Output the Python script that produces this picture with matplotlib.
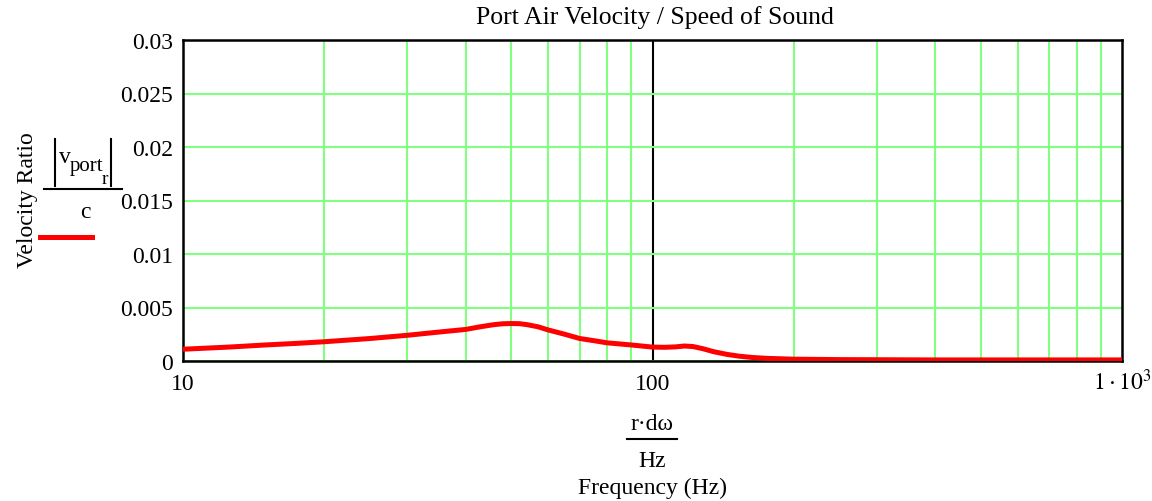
import matplotlib
matplotlib.use("Agg")
import matplotlib.pyplot as plt
from matplotlib.lines import Line2D

plt.rcParams['font.family'] = ['Liberation Serif', 'DejaVu Serif']
plt.rcParams['mathtext.fontset'] = 'stix'

# frequency (Hz) and |v_port| / c
freq = [10, 12.5, 15, 17.5, 20, 25, 30, 35, 40, 43, 46, 48, 50, 52, 54, 57,
        60, 65, 70, 75, 80, 90, 100, 106, 112, 117, 122, 128, 135, 144, 153,
        163, 175, 200, 250, 300, 400, 500, 700, 1000]
ratio = [0.0011, 0.0013, 0.0015, 0.00165, 0.0018, 0.0021, 0.0024, 0.0027,
         0.00295, 0.0032, 0.0034, 0.00348, 0.0035, 0.00349, 0.0034, 0.0032,
         0.0029, 0.0025, 0.0021, 0.0019, 0.0017, 0.0015, 0.0013, 0.00128,
         0.00132, 0.0014, 0.00135, 0.00115, 0.00087, 0.00062, 0.00045,
         0.00033, 0.00025, 0.00017, 0.00013, 0.00012, 0.0001, 0.0001, 0.0001,
         0.0001]

yticks = [0, 0.005, 0.01, 0.015, 0.02, 0.025, 0.03]
ytick_labels = ['0', '0.005', '0.01', '0.015', '0.02', '0.025', '0.03']
xticks = [10, 100, 1000]
xtick_labels = ['10', '100', r'$1\cdot10^{3}$']

W, H = 1152, 502
fig = plt.figure(figsize=(W / 100, H / 100), dpi=100)
ax = fig.add_axes([183 / W, 1 - 362 / H, 939 / W, 321 / H])

green = '#80ff80'
ax.set_xscale('log')
ax.set_xlim(10, 1000)
ax.set_ylim(0, 0.03)
ax.set_yticks(yticks)
ax.set_yticklabels(ytick_labels)
ax.set_xticks(xticks)
ax.set_xticklabels([])
ax.set_xticks([20, 30, 40, 50, 60, 70, 80, 90, 200, 300, 400, 500, 600, 700, 800, 900], minor=True)
ax.xaxis.set_minor_formatter(plt.NullFormatter())
ax.tick_params(axis='both', which='both', length=0, labelsize=17)
ax.tick_params(axis='y', pad=7)
ax.grid(True, which='minor', axis='x', color=green, lw=1.5)
ax.grid(True, which='major', axis='y', color=green, lw=1.5)
ax.axvline(100, color='black', lw=1.5, zorder=1.5)
for s in ax.spines.values():
    s.set_linewidth(1.8)

# x tick labels on a common baseline
for xv, lab in zip(xticks, xtick_labels):
    ax.text(xv, (362 - 390) / 321, lab, transform=ax.get_xaxis_transform(),
            ha='center', va='baseline', fontsize=17)

ax.plot(freq, ratio, color='red', lw=3.6, solid_capstyle='butt', zorder=3)


def fx(x):
    return x / W


def fy(y):
    return 1 - y / H


fig.text(fx(655), fy(18), 'Port Air Velocity / Speed of Sound', ha='center', va='center', fontsize=18.5)

# y axis label block
fig.text(fx(28), fy(200), 'Velocity Ratio', rotation=90, ha='center', va='center', fontsize=17)
fig.text(fx(59), fy(158), 'v', ha='left', va='center', fontsize=17)
fig.text(fx(70), fy(167), 'port', ha='left', va='center', fontsize=15)
fig.text(fx(102), fy(180), 'r', ha='left', va='center', fontsize=14)
fig.add_artist(Line2D([fx(55), fx(55)], [fy(140), fy(187)], color='black', lw=1.5))
fig.add_artist(Line2D([fx(111), fx(111)], [fy(140), fy(187)], color='black', lw=1.5))
fig.add_artist(Line2D([fx(44), fx(122)], [fy(190), fy(190)], color='black', lw=1.5))
fig.text(fx(85), fy(212), 'c', ha='center', va='center', fontsize=17)
fig.add_artist(Line2D([fx(40), fx(92)], [fy(238), fy(238)], color='red', lw=3.6))

# x axis label block
fig.text(fx(652), fy(424), 'r·dω', ha='center', va='center', fontsize=17)
fig.add_artist(Line2D([fx(627), fx(677)], [fy(440), fy(440)], color='black', lw=1.5))
fig.text(fx(652), fy(462), 'Hz', ha='center', va='center', fontsize=17)
fig.text(fx(652), fy(488), 'Frequency (Hz)', ha='center', va='center', fontsize=17)

fig.savefig('out.png', dpi=100)
